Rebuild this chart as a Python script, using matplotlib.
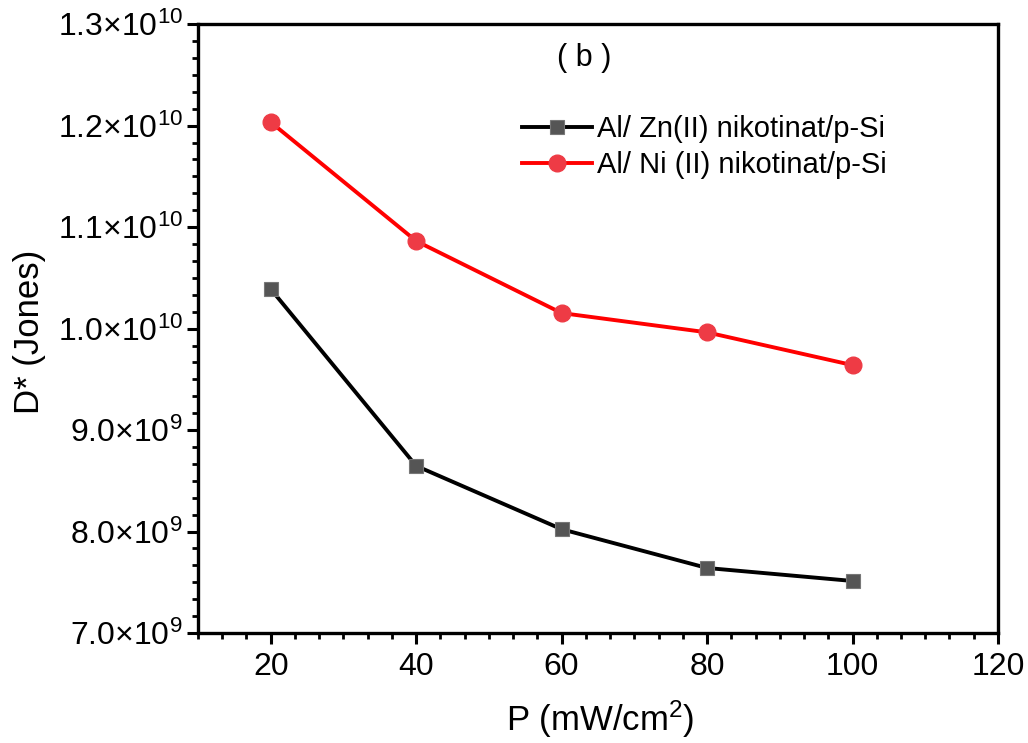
import numpy as np
import matplotlib
matplotlib.use("Agg")
import matplotlib.pyplot as plt
from matplotlib.ticker import MultipleLocator, FixedLocator, FuncFormatter

plt.rcParams['font.family'] = ['Liberation Sans', 'DejaVu Sans']
plt.rcParams['mathtext.fontset'] = 'custom'
plt.rcParams['mathtext.rm'] = 'Liberation Sans'
plt.rcParams['mathtext.it'] = 'Liberation Sans:italic'

# light intensity (mW/cm2)
power = [20, 40, 60, 80, 100]
# detectivity D* (Jones)
d_zn = [1.039e10, 8.647e9, 8.023e9, 7.641e9, 7.513e9]
d_ni = [1.2034e10, 1.0863e10, 1.0153e10, 9.963e9, 9.640e9]

label_zn = 'Al/ Zn(II) nikotinat/p-Si'
label_ni = 'Al/ Ni (II) nikotinat/p-Si'

y_ticks = [7.0e9, 8.0e9, 9.0e9, 1.0e10, 1.1e10, 1.2e10, 1.3e10]
x_ticks = [20, 40, 60, 80, 100, 120]


def sci_fmt(v, pos):
    exp = int(np.floor(np.log10(v)))
    mant = v / 10**exp
    return '%.1f\u00d710$^{%d}$' % (mant, exp)


fig = plt.figure(figsize=(10.28, 7.43), dpi=100)
ax = fig.add_axes([0.1926, 0.148, 0.7782, 0.8195])

ax.plot(power, d_zn, color='black', lw=2.8, marker='s', ms=10,
        mfc='#555555', mec='#777777', mew=0.8, label=label_zn)
ax.plot(power, d_ni, color='#ff0000', lw=2.8, marker='o', ms=12,
        mfc='#ee3b45', mec='#ee3b45', label=label_ni)

ax.set_xlim(10, 120)
ax.set_ylim(7.0e9, 1.3e10)
ax.xaxis.set_major_locator(FixedLocator(x_ticks))
ax.xaxis.set_minor_locator(MultipleLocator(10 / 3))
ax.yaxis.set_major_locator(FixedLocator(y_ticks))
ax.yaxis.set_minor_locator(MultipleLocator(1e9 / 6))
ax.yaxis.set_major_formatter(FuncFormatter(sci_fmt))

for s in ax.spines.values():
    s.set_linewidth(2.4)

ax.tick_params(which='major', direction='out', length=8, width=2.2,
               labelsize=23, top=False, right=False)
ax.tick_params(which='minor', direction='out', length=4.5, width=2.0,
               top=False, right=False)
ax.tick_params(axis='x', pad=6)
ax.tick_params(axis='y', pad=3)

ax.set_xlabel('P (mW/cm$^2$)', fontsize=25)
ax.set_ylabel('D* (Jones)', fontsize=25)
ax.xaxis.set_label_coords(0.5025, -0.108)
ax.yaxis.set_label_coords(-0.19, 0.495)

ax.text(0.4825, 0.945, '( b )', transform=ax.transAxes, fontsize=22,
        ha='center', va='center')

ax.legend(loc='upper left', bbox_to_anchor=(0.39, 0.87), frameon=False,
          fontsize=21, handlelength=2.4, handletextpad=0.2,
          labelspacing=0.27, borderaxespad=0)

fig.savefig('out.png', dpi=100)
